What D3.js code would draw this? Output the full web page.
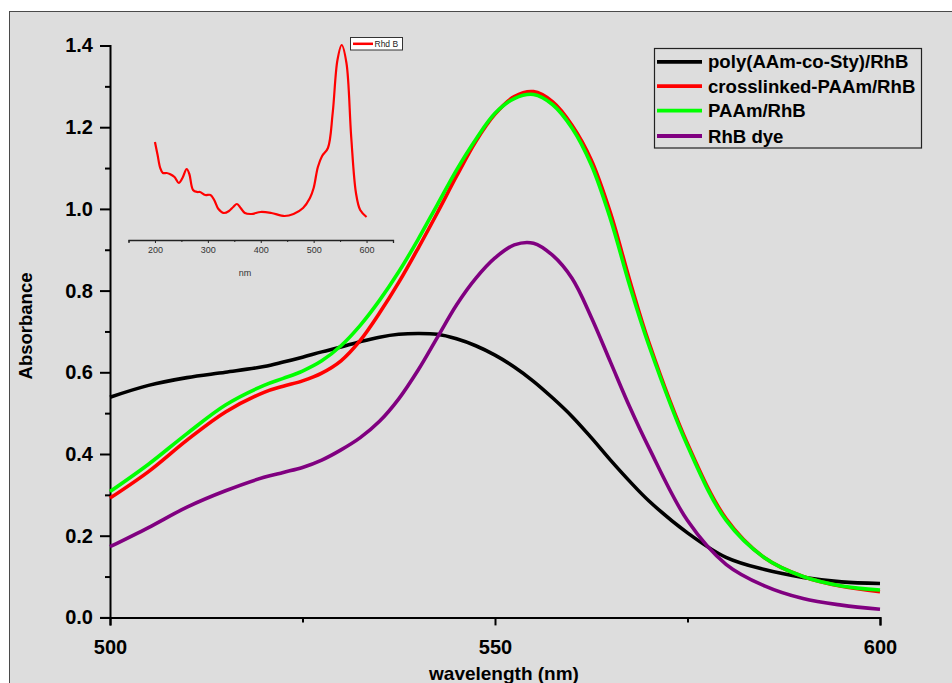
<!DOCTYPE html>
<html>
<head>
<meta charset="utf-8">
<script src="https://cdn.jsdelivr.net/npm/d3@7"></script>
<style>
  html, body { margin: 0; padding: 0; background: #ffffff; overflow: hidden; }
  svg { display: block; }
  text { font-family: Arial, "Liberation Sans", Helvetica, sans-serif; }
</style>
</head>
<body>
<svg id="chart" width="952" height="683"></svg>
<script>
// ---------------- DATA ----------------
const wavelengths = [500,505,510,515,520,522.5,525,527.5,530,532.5,535,537.5,540,542.5,545,547.5,550,552.5,555,557.5,560,562.5,565,567.5,570,575,580,585,590,595,600];
const polyAAmCoSty =    [0.539,0.568,0.587,0.600,0.614,0.625,0.637,0.650,0.662,0.675,0.686,0.693,0.695,0.693,0.682,0.665,0.642,0.613,0.578,0.537,0.492,0.440,0.385,0.333,0.285,0.207,0.147,0.117,0.098,0.087,0.083];
const crosslinkedPAAm = [0.292,0.357,0.434,0.503,0.551,0.566,0.579,0.598,0.628,0.678,0.745,0.820,0.903,0.990,1.080,1.165,1.232,1.275,1.287,1.262,1.205,1.120,0.990,0.825,0.672,0.425,0.242,0.146,0.100,0.076,0.063];
const paam =            [0.308,0.375,0.450,0.520,0.568,0.585,0.603,0.628,0.665,0.715,0.776,0.846,0.925,1.010,1.095,1.170,1.234,1.270,1.280,1.255,1.198,1.108,0.975,0.812,0.665,0.420,0.238,0.146,0.100,0.077,0.067];
const rhbDye =          [0.173,0.220,0.270,0.310,0.343,0.355,0.367,0.385,0.410,0.440,0.480,0.535,0.605,0.685,0.765,0.830,0.880,0.912,0.916,0.886,0.830,0.735,0.625,0.515,0.415,0.237,0.130,0.077,0.046,0.030,0.020];

const seriesNames = ["poly(AAm-co-Sty)/RhB","crosslinked-PAAm/RhB","PAAm/RhB","RhB dye"];
const seriesColors = ["#000000","#ff0000","#00ff00","#800080"];

const xMajorTicks = [500,550,600];
const xMinorTicks = [525,575];
const yMajorTicks = [0.0,0.2,0.4,0.6,0.8,1.0,1.2,1.4];
const yMinorTicks = [0.1,0.3,0.5,0.7,0.9,1.1,1.3];

// inset (Rhd B full spectrum)
const insetNm =  [200,205,210,215,222,228,237,245,252,260,265,272,280,285,295,305,312,320,330,340,348,355,362,370,382,400,420,445,462,480,493,500,508,516,527,536,545,553,562,571,580,588,600];
const insetAbs = [0.98,0.85,0.72,0.67,0.67,0.66,0.63,0.57,0.62,0.71,0.66,0.50,0.48,0.48,0.45,0.45,0.40,0.31,0.27,0.29,0.33,0.36,0.32,0.27,0.26,0.28,0.27,0.24,0.26,0.32,0.42,0.52,0.73,0.84,0.92,1.27,1.80,1.95,1.77,1.03,0.47,0.30,0.23];
const insetTicks = [200,300,400,500,600];
const insetMinor = [150,250,350,450,550,650];
const insetLabel = "Rhd B";

// ---------------- DRAW ----------------
const svg = d3.select("#chart");

// background frame
svg.append("rect").attr("x",9.5).attr("y",11.5).attr("width",960).attr("height",700)
  .attr("fill","#dddddd").attr("stroke","#4a4a4a").attr("stroke-width",1);

const x = d3.scaleLinear().domain([500,600]).range([110,880]);
const y = d3.scaleLinear().domain([0,1.4]).range([617.4,45.5]);

// axes
const gx = svg.append("g").attr("transform","translate(0,617.4)");
gx.call(d3.axisBottom(x).tickValues(xMajorTicks).tickSize(8).tickPadding(14).tickFormat(d3.format("d")));
const gxm = svg.append("g").attr("transform","translate(0,617.4)");
gxm.call(d3.axisBottom(x).tickValues(xMinorTicks).tickSize(5).tickFormat(""));

const gy = svg.append("g").attr("transform","translate(110,0)");
gy.call(d3.axisLeft(y).tickValues(yMajorTicks).tickSize(10).tickPadding(7).tickFormat(d3.format(".1f")));
const gym = svg.append("g").attr("transform","translate(110,0)");
gym.call(d3.axisLeft(y).tickValues(yMinorTicks).tickSize(5).tickFormat(""));

[gx,gxm,gy,gym].forEach(g => {
  g.selectAll("path.domain").attr("stroke","#000").attr("stroke-width",2);
  g.selectAll(".tick line").attr("stroke","#000").attr("stroke-width",2);
  g.selectAll(".tick text").attr("fill","#000").attr("font-size",20).attr("font-weight","bold")
    .attr("font-family","Arial, 'Liberation Sans', sans-serif");
});
gxm.select("path.domain").remove();
gym.select("path.domain").remove();

// axis titles
svg.append("text").attr("x",504).attr("y",680).attr("text-anchor","middle")
  .attr("font-size",19).attr("font-weight","bold").text("wavelength (nm)");
svg.append("text").attr("transform","translate(32,326) rotate(-90)").attr("text-anchor","middle")
  .attr("font-size",18.5).attr("font-weight","bold").text("Absorbance");

// ---------------- INSET ----------------
const xi = d3.scaleLinear().domain([150,650]).range([128.5,393]);
const yi = d3.scaleLinear().domain([0,2.2]).range([240,20]);

const gi = svg.append("g").attr("transform","translate(0,240)");
gi.call(d3.axisBottom(xi).tickValues(insetTicks).tickSize(3).tickPadding(4).tickFormat(d3.format("d")));
const gim = svg.append("g").attr("transform","translate(0,240)");
gim.call(d3.axisBottom(xi).tickValues(insetMinor).tickSize(2).tickFormat(""));
gim.select("path.domain").remove();
[gi,gim].forEach(g => {
  g.selectAll("path.domain").attr("stroke","#222").attr("stroke-width",1.3);
  g.selectAll(".tick line").attr("stroke","#222").attr("stroke-width",1);
  g.selectAll(".tick text").attr("fill","#333").attr("font-size",9)
    .attr("font-family","Arial, 'Liberation Sans', sans-serif");
});
svg.append("text").attr("x",245).attr("y",276).attr("text-anchor","middle")
  .attr("font-size",9).attr("fill","#333").text("nm");

const insetLine = d3.line().x((d,i)=>xi(insetNm[i])).y(d=>yi(d)).curve(d3.curveCatmullRom.alpha(0.5));
svg.append("path").attr("d",insetLine(insetAbs)).attr("fill","none")
  .attr("stroke","#ff0000").attr("stroke-width",2.2).attr("stroke-linejoin","round");

// inset legend
svg.append("rect").attr("x",350.5).attr("y",37.5).attr("width",52).attr("height",12.5)
  .attr("fill","#ffffff").attr("stroke","#333").attr("stroke-width",1);
svg.append("line").attr("x1",353).attr("x2",373).attr("y1",43.8).attr("y2",43.8)
  .attr("stroke","#ff0000").attr("stroke-width",2.5);
svg.append("text").attr("x",374.5).attr("y",47.2).attr("font-size",8.5).attr("fill","#222").text(insetLabel);

// ---------------- MAIN CURVES ----------------
const allSeries = [polyAAmCoSty, crosslinkedPAAm, paam, rhbDye];
const line = d3.line().x((d,i)=>x(wavelengths[i])).y(d=>y(d)).curve(d3.curveCatmullRom.alpha(0.5));
allSeries.forEach((s,k) => {
  svg.append("path").attr("d",line(s)).attr("fill","none")
    .attr("stroke",seriesColors[k]).attr("stroke-width",3.6)
    .attr("stroke-linejoin","round");
});

// ---------------- LEGEND ----------------
const lg = svg.append("g");
lg.append("rect").attr("x",654.5).attr("y",48.5).attr("width",267).attr("height",99.5)
  .attr("fill","#dddddd").attr("stroke","#222").attr("stroke-width",1.2);
const rowY = [61.8, 86.2, 110.6, 136];
seriesNames.forEach((n,k) => {
  lg.append("line").attr("x1",657).attr("x2",702).attr("y1",rowY[k]).attr("y2",rowY[k])
    .attr("stroke",seriesColors[k]).attr("stroke-width",3.8);
  lg.append("text").attr("x",708).attr("y",rowY[k]+6.5).attr("font-size",18.6)
    .attr("font-weight","bold").attr("fill","#000").text(n);
});
</script>
</body>
</html>
